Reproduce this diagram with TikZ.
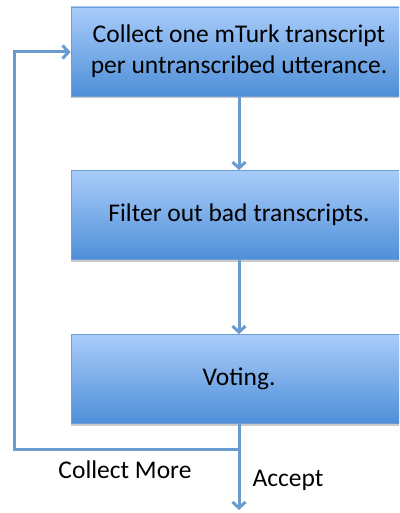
\documentclass[tikz,border=0pt]{standalone}
\usepackage{fontspec}
\setmainfont{Carlito}
\usetikzlibrary{arrows.meta,shadows}
\definecolor{boxtop}{HTML}{A9CCFA}
\definecolor{boxbot}{HTML}{4E8FD8}
\definecolor{boxline}{HTML}{6E9DD3}
\definecolor{arr}{HTML}{6A9BCF}
\tikzset{
  stepbox/.style={draw=boxline, line width=0.8pt, top color=boxtop, bottom color=boxbot,
    minimum width=336pt, minimum height=89pt, inner sep=0pt, align=center,
    font=\fontsize{25.5}{31}\selectfont,
    drop shadow={shadow xshift=0pt, shadow yshift=-2.5pt, opacity=0.35, fill=black!60}},
  conn/.style={draw=arr, line width=3pt, -{Straight Barb[length=6pt,width=13pt,line width=3pt]}},
  lbl/.style={font=\fontsize{25.5}{28}\selectfont, inner sep=0pt}
}
\begin{document}
\begin{tikzpicture}[x=1pt,y=-1pt]
\useasboundingbox (0,0) rectangle (399,513);
\clip (0,0) rectangle (399,513);
\node[stepbox] (b1) at (239,51.5) {Collect one mTurk transcript\\per untranscribed utterance.};
\node[stepbox] (b2) at (239,215) {Filter out bad transcripts.};
\node[stepbox] (b3) at (239,379) {Voting.};
\coordinate (junc) at (239,449);
\coordinate (corner) at (14,449);
\coordinate (top) at (14,52);
\coordinate (endp) at (239,510);
\draw[conn] (b1.south) -- (b2.north);
\draw[conn] (b2.south) -- (b3.north);
\draw[conn] (b3.south) -- (endp);
\draw[conn] (junc) -- (corner) -- (top) -- (b1.west |- top);
\node[lbl] (cm) at (125,470) {Collect More};
\node[lbl] (acc) at (288,480) {Accept};
\end{tikzpicture}
\end{document}
